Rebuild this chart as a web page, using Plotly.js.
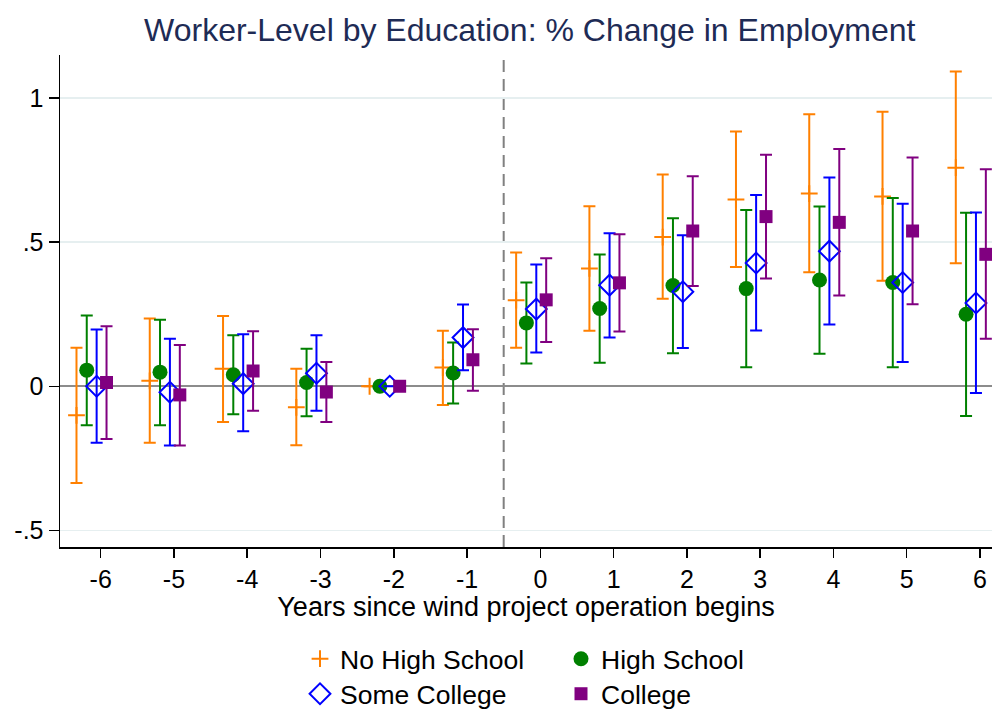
<!DOCTYPE html>
<html>
<head>
<meta charset="utf-8">
<script src="https://cdn.plot.ly/plotly-3.0.1.min.js"></script>
<style>html,body{margin:0;padding:0;background:#fff;}#chart{width:992px;height:710px;}</style>
</head>
<body>
<div id="chart"></div>
<script>
// Event-time categories
const years = [-6,-5,-4,-3,-2,-1,0,1,2,3,4,5,6];

// No High School
const nhsPoint = [-0.101, 0.019, 0.061, -0.073, 0, 0.065, 0.299, 0.409, 0.518, 0.648, 0.669, 0.659, 0.759];
const nhsHigh  = [ 0.134, 0.235, 0.244,  0.061, 0, 0.193, 0.464, 0.625, 0.735, 0.884, 0.944, 0.953, 1.093];
const nhsLow   = [-0.336,-0.196,-0.124, -0.205, 0,-0.065, 0.134, 0.193, 0.304, 0.414, 0.396, 0.366, 0.427];

// High School
const hsPoint = [ 0.056, 0.049, 0.040, 0.013, 0, 0.046, 0.220, 0.270, 0.350, 0.339, 0.369, 0.360, 0.250];
const hsHigh  = [ 0.246, 0.231, 0.177, 0.130, 0, 0.152, 0.360, 0.457, 0.583, 0.612, 0.624, 0.654, 0.602];
const hsLow   = [-0.135,-0.135,-0.097,-0.104, 0,-0.060, 0.079, 0.082, 0.115, 0.066, 0.113, 0.066,-0.103];

// Some College
const scPoint = [ 0.000,-0.021, 0.009, 0.045, 0, 0.169, 0.268, 0.351, 0.328, 0.428, 0.469, 0.360, 0.289];
const scHigh  = [ 0.197, 0.165, 0.181, 0.177, 0, 0.284, 0.423, 0.531, 0.524, 0.664, 0.725, 0.634, 0.603];
const scLow   = [-0.196,-0.206,-0.156,-0.085, 0, 0.056, 0.117, 0.169, 0.133, 0.194, 0.214, 0.084,-0.023];

// College
const colPoint = [ 0.013,-0.030, 0.053,-0.020, 0, 0.092, 0.300, 0.359, 0.539, 0.589, 0.569, 0.539, 0.458];
const colHigh  = [ 0.208, 0.143, 0.191, 0.084, 0, 0.198, 0.444, 0.528, 0.729, 0.804, 0.824, 0.794, 0.753];
const colLow   = [-0.183,-0.206,-0.085,-0.124, 0,-0.016, 0.154, 0.190, 0.348, 0.374, 0.315, 0.285, 0.165];

const yTickVals = [-0.5, 0, 0.5, 1];
const yTickText = ['-.5', '0', '.5', '1'];
const xTickVals = years;
const xTickText = years.map(String);

const FONT = '"Liberation Sans", Arial, sans-serif';

function series(name, offset, pt, hi, lo, color, marker, legendId) {
  return {
    type: 'scatter',
    mode: 'markers',
    name: name,
    legend: legendId,
    x: years.map(v => v + offset),
    y: pt,
    marker: marker,
    error_y: {
      type: 'data', symmetric: false,
      array: hi.map((h, i) => h - pt[i]),
      arrayminus: lo.map((l, i) => pt[i] - l),
      color: color, thickness: 2, width: 6
    },
    hoverinfo: 'x+y'
  };
}

const data = [
  series('No High School', -0.33, nhsPoint, nhsHigh, nhsLow, '#ff8000',
    {symbol: 'cross-thin', size: 12, color: '#ff8000', line: {color: '#ff8000', width: 2}}, 'legend'),
  series('High School', -0.19, hsPoint, hsHigh, hsLow, '#008000',
    {symbol: 'circle', size: 15, color: '#008000'}, 'legend'),
  series('Some College', -0.055, scPoint, scHigh, scLow, '#0000ff',
    {symbol: 'diamond-open', size: 16, color: '#0000ff', line: {color: '#0000ff', width: 2}}, 'legend2'),
  series('College', 0.08, colPoint, colHigh, colLow, '#800080',
    {symbol: 'square', size: 13, color: '#800080'}, 'legend2')
];

const legendCommon = {
  orientation: 'h', xref: 'container', yref: 'container',
  xanchor: 'left', yanchor: 'middle',
  font: {family: FONT, size: 26.5, color: '#000'},
  entrywidth: 216, entrywidthmode: 'pixels',
  bgcolor: 'rgba(0,0,0,0)', borderwidth: 0,
  itemclick: false, itemdoubleclick: false
};

const layout = {
  width: 992, height: 710,
  paper_bgcolor: '#fff', plot_bgcolor: '#fff',
  margin: {l: 60, r: 0, t: 55, b: 163},
  font: {family: FONT, color: '#000'},
  title: {
    text: 'Worker-Level by Education: % Change in Employment',
    font: {family: FONT, size: 32, color: '#1e2b55'},
    xref: 'container', x: 0.534, xanchor: 'center',
    yref: 'container', y: 0.958, yanchor: 'middle'
  },
  xaxis: {
    range: [-6.555, 6.164],
    tickmode: 'array', tickvals: xTickVals, ticktext: xTickText,
    ticks: 'outside', ticklen: 9, tickwidth: 1.5, tickcolor: '#000',
    showline: true, linecolor: '#000', linewidth: 1.5,
    showgrid: false, zeroline: false,
    tickfont: {family: FONT, size: 25, color: '#000'},
    title: {text: 'Years since wind project operation begins',
            font: {family: FONT, size: 27, color: '#000'}, standoff: 2}
  },
  yaxis: {
    range: [-0.558, 1.150],
    tickmode: 'array', tickvals: yTickVals, ticktext: yTickText,
    ticks: 'outside', ticklen: 10, tickwidth: 1.5, tickcolor: '#000',
    showline: true, linecolor: '#000', linewidth: 1.5,
    showgrid: true, gridcolor: '#e6eff0', gridwidth: 1.5,
    zeroline: true, zerolinecolor: '#8c8c8c', zerolinewidth: 2,
    tickfont: {family: FONT, size: 25, color: '#000'}
  },
  shapes: [{
    type: 'line', xref: 'x', yref: 'paper',
    x0: -0.5, x1: -0.5, y0: 0, y1: 1,
    line: {color: '#808080', width: 2, dash: '12px,7px'},
    layer: 'below'
  }],
  legend: Object.assign({}, legendCommon, {x: 300/992, y: 1 - 659/710}),
  legend2: Object.assign({}, legendCommon, {x: 300/992, y: 1 - 694/710}),
  showlegend: true
};

Plotly.newPlot('chart', data, layout, {displayModeBar: false, staticPlot: true});
</script>
</body>
</html>
